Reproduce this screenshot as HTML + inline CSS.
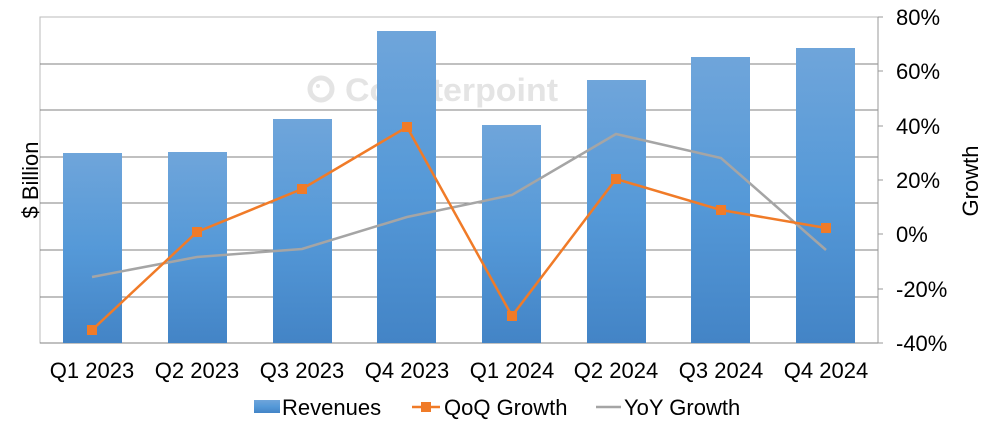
<!DOCTYPE html>
<html><head><style>
html,body{margin:0;padding:0;background:#fff;}
svg{display:block;font-family:"Liberation Sans",Arial,sans-serif;}
</style></head><body>
<svg width="990" height="425" viewBox="0 0 990 425" xmlns="http://www.w3.org/2000/svg">
<defs>
<linearGradient id="g" x1="0" y1="0" x2="0" y2="1">
<stop offset="0" stop-color="#6fa5da"/><stop offset="0.5" stop-color="#5599d8"/><stop offset="1" stop-color="#4384c6"/>
</linearGradient>
</defs>
<rect x="40" y="17" width="838" height="326" fill="#fff" stroke="#bbb" stroke-width="1"/>
<g stroke="#808080" stroke-width="1">
<line x1="40" y1="64" x2="878" y2="64"/><line x1="40" y1="110" x2="878" y2="110"/>
<line x1="40" y1="157" x2="878" y2="157"/><line x1="40" y1="203" x2="878" y2="203"/>
<line x1="40" y1="250" x2="878" y2="250"/><line x1="40" y1="297" x2="878" y2="297"/>
<line x1="40" y1="343" x2="878" y2="343"/>
</g>
<g stroke="#999" stroke-width="1">
<line x1="878" y1="17" x2="878" y2="343"/>
<line x1="878" y1="17" x2="883" y2="17"/><line x1="878" y1="71" x2="883" y2="71"/>
<line x1="878" y1="126" x2="883" y2="126"/><line x1="878" y1="180" x2="883" y2="180"/>
<line x1="878" y1="234" x2="883" y2="234"/><line x1="878" y1="289" x2="883" y2="289"/>
<line x1="878" y1="343" x2="883" y2="343"/>
</g>
<circle cx="321" cy="89" r="11" fill="none" stroke="#e4e4e4" stroke-width="5"/>
<circle cx="318" cy="86" r="2" fill="#e4e4e4"/>
<text x="345" y="101" font-size="32" font-weight="bold" fill="#e4e4e4" textLength="213" lengthAdjust="spacingAndGlyphs">Counterpoint</text>
<g fill="url(#g)">
<rect x="63" y="153" width="59" height="190"/>
<rect x="168" y="152" width="59" height="191"/>
<rect x="273" y="119" width="59" height="224"/>
<rect x="377" y="31" width="59" height="312"/>
<rect x="482" y="125" width="59" height="218"/>
<rect x="587" y="80" width="59" height="263"/>
<rect x="691" y="57" width="59" height="286"/>
<rect x="796" y="48" width="59" height="295"/>
</g>
<polyline fill="none" stroke="#a5a5a5" stroke-width="2.5" points="92,277 197,257 302,249 407,217 512,195 616,134 721,158 826,250"/>
<polyline fill="none" stroke="#f07b28" stroke-width="2.5" points="92,330 197,232 302,189 407,127 512,316 616,179 721,210 826,228"/>
<g fill="#f07b28">
<rect x="87" y="325" width="10" height="10"/><rect x="192" y="227" width="10" height="10"/>
<rect x="297" y="184" width="10" height="10"/><rect x="402" y="122" width="10" height="10"/>
<rect x="507" y="311" width="10" height="10"/><rect x="611" y="174" width="10" height="10"/>
<rect x="716" y="205" width="10" height="10"/><rect x="821" y="223" width="10" height="10"/>
</g>
<g font-size="22" fill="#000" text-anchor="middle">
<text x="92" y="378">Q1 2023</text><text x="197" y="378">Q2 2023</text>
<text x="302" y="378">Q3 2023</text><text x="407" y="378">Q4 2023</text>
<text x="512" y="378">Q1 2024</text><text x="616" y="378">Q2 2024</text>
<text x="721" y="378">Q3 2024</text><text x="826" y="378">Q4 2024</text>
</g>
<g font-size="22" fill="#000">
<text x="896" y="25">80%</text><text x="896" y="79">60%</text>
<text x="896" y="134">40%</text><text x="896" y="188">20%</text>
<text x="896" y="242">0%</text><text x="896" y="297">-20%</text>
<text x="896" y="351">-40%</text>
</g>
<text transform="translate(38,180) rotate(-90)" font-size="22" text-anchor="middle">$ Billion</text>
<text transform="translate(978,181) rotate(-90)" font-size="22" text-anchor="middle">Growth</text>
<rect x="254" y="400" width="26" height="13" fill="url(#g)"/>
<text x="282" y="415" font-size="22">Revenues</text>
<line x1="412" y1="407" x2="440" y2="407" stroke="#f07b28" stroke-width="2.5"/>
<rect x="421" y="402" width="10" height="10" fill="#f07b28"/>
<text x="444" y="415" font-size="22">QoQ Growth</text>
<line x1="596" y1="407" x2="621" y2="407" stroke="#a5a5a5" stroke-width="2.5"/>
<text x="624" y="415" font-size="22">YoY Growth</text>
</svg>
</body></html>
